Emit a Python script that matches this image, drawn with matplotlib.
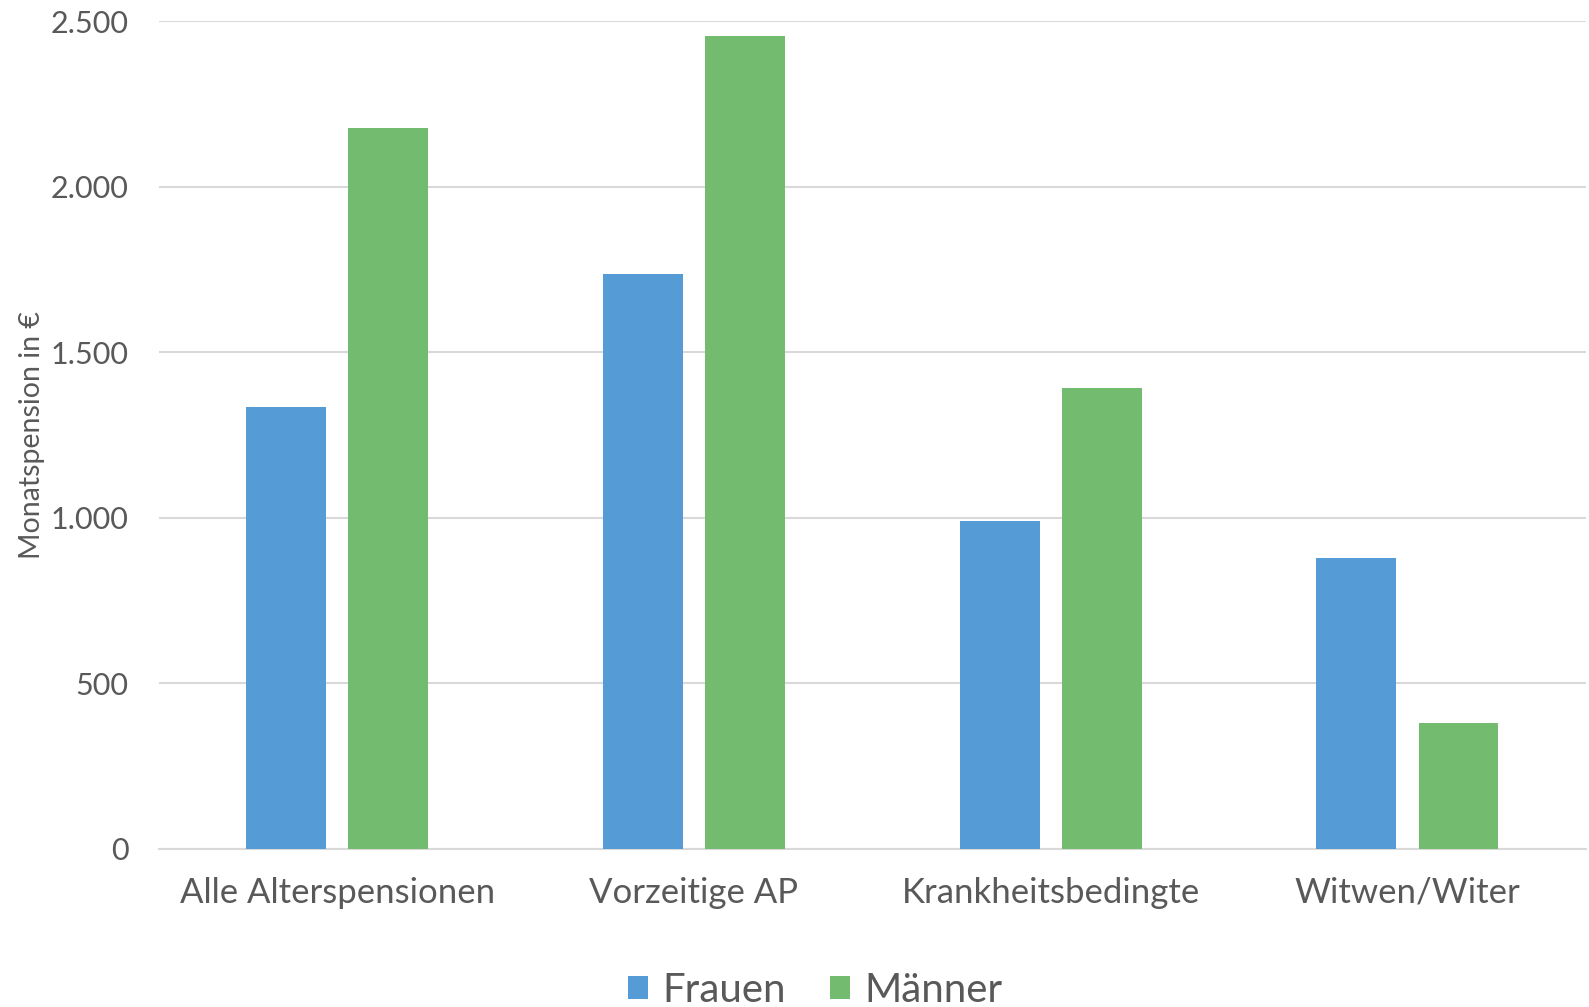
import matplotlib
matplotlib.use("Agg")
import matplotlib.pyplot as plt
import numpy as np
from matplotlib.ticker import FuncFormatter

categories = ["Alle Alterspensionen", "Vorzeitige AP", "Krankheitsbedingte", "Witwen/Witer"]
frauen = [1334, 1735, 991, 878]
maenner = [2176, 2454, 1392, 380]
series_names = ["Frauen", "Männer"]
y_ticks = [0, 500, 1000, 1500, 2000, 2500]
y_label = "Monatspension in €"

plt.rcParams['font.family'] = ['Lato', 'DejaVu Sans']
text_color = "#595959"
blue = "#559BD6"
green = "#73BB6E"
grid_color = "#D9D9D9"

fig = plt.figure(figsize=(15.89, 10.07), dpi=100)
ax = fig.add_axes([0.1, 0.157, 0.898, 0.822])

x = np.arange(len(categories))
w = 0.224
off = 0.143
ax.bar(x - off, frauen, w, color=blue, label=series_names[0], zorder=3)
ax.bar(x + off, maenner, w, color=green, label=series_names[1], zorder=3)

ax.set_xlim(-0.5, len(categories) - 0.5)
ax.set_ylim(0, 2500)
ax.set_yticks(y_ticks)
ax.yaxis.set_major_formatter(FuncFormatter(lambda v, p: f"{int(v):,}".replace(",", ".")))
ax.set_xticks(x)
ax.set_xticklabels(categories)
ax.tick_params(axis='both', length=0, labelcolor=text_color)
ax.tick_params(axis='y', pad=22, labelsize=22)
ax.tick_params(axis='x', pad=20, labelsize=25)
ax.grid(axis='y', color=grid_color, linewidth=1.5, zorder=0)
for s in ['top', 'right', 'left']:
    ax.spines[s].set_visible(False)
ax.spines['bottom'].set_color(grid_color)
ax.spines['bottom'].set_linewidth(1.5)
ax.set_ylabel(y_label, fontsize=20.5, color=text_color, labelpad=4)

leg = fig.legend(loc='lower center', bbox_to_anchor=(0.513, -0.038), ncol=2, frameon=False,
                 fontsize=29, handlelength=0.5, handleheight=0.5, handletextpad=0.35,
                 columnspacing=1.1, labelcolor=text_color)

fig.savefig("out.png", dpi=100)
